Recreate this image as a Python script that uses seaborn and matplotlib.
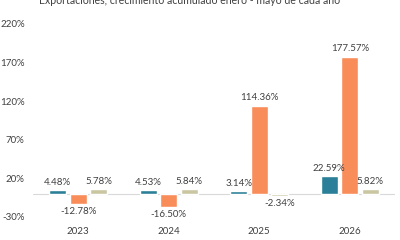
import matplotlib
matplotlib.use("Agg")
import matplotlib.pyplot as plt
import pandas as pd
import seaborn as sns

years = ["2023", "2024", "2025", "2026"]
series = ["Total", "Sector minero exportador", "Resto"]
total = [4.48, 4.53, 3.14, 22.59]
sector = [-12.78, -16.50, 114.36, 177.57]
resto = [5.78, 5.84, -2.34, 5.82]
yticks = [-30, 20, 70, 120, 170, 220]

colors = ["#2b7f99", "#f98d5a", "#cbc6a2"]

df = pd.DataFrame({
    "Año": years * 3,
    "Serie": [s for s in series for _ in years],
    "Valor": total + sector + resto,
})

sns.set_theme(style="white")
plt.rcParams["font.family"] = ["Lato", "DejaVu Sans"]

fig = plt.figure(figsize=(4, 2.4), dpi=100)
ax = fig.add_axes([0.0825, 0.096, 0.905, 0.804])

sns.barplot(data=df, x="Año", y="Valor", hue="Serie", palette=colors,
            saturation=1, width=0.68, gap=0.15, ax=ax, legend=True)

for cont in ax.containers:
    ax.bar_label(cont, fmt="%.2f%%", padding=2.5, fontsize=7, color="#404040")

ax.axhline(0, color="#d9d9d9", linewidth=0.8, zorder=0)
ax.set_ylim(-30, 220)
ax.set_xlim(-0.5, 3.5)
ax.set_yticks(yticks)
ax.set_yticklabels([f"{t}%" for t in yticks])
ax.tick_params(axis="y", labelsize=7, colors="#404040", length=0, pad=6)
ax.tick_params(axis="x", labelsize=7, colors="#404040", length=0, pad=7)
ax.set_xlabel("")
ax.set_ylabel("")
for sp in ax.spines.values():
    sp.set_visible(False)

handles, labels = ax.get_legend_handles_labels()
ax.get_legend().remove()
fig.legend(handles, labels, loc="upper center", bbox_to_anchor=(0.5, 0.035),
           ncol=3, frameon=False, fontsize=7, handlelength=0.8, handleheight=0.8,
           columnspacing=2.5, handletextpad=0.4, labelcolor="#404040")

fig.text(0.473, 1.0, "Exportaciones, crecimiento acumulado enero - mayo de cada año",
         ha="center", va="center", fontsize=7.6, color="#404040")

fig.savefig("out.png", dpi=100)
